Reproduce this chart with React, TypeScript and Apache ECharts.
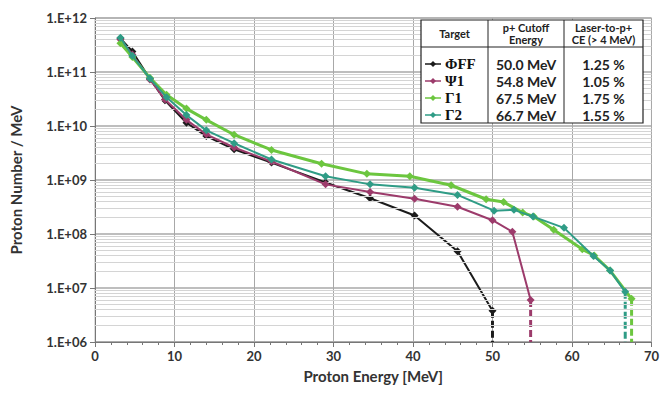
import React, { useEffect, useRef } from "react";
import * as echarts from "echarts";

const xTicks = [0, 10, 20, 30, 40, 50, 60, 70];
const decades = [6, 7, 8, 9, 10, 11];
const minorMultipliers = [2, 3, 4, 5, 6, 7, 8, 9];

const ffX = [3.2, 4.7, 6.9, 8.8, 11.5, 14.0, 17.5, 22.2, 29.0, 34.6, 40.2, 45.6, 50.0];
const ffY = [4.2e11, 2.4e11, 7.5e10, 3.0e10, 1.15e10, 6.5e9, 3.7e9, 2.1e9, 9e8, 4.6e8, 2.2e8, 4.8e7, 3.8e6];

const psiX = [3.2, 4.7, 6.9, 8.8, 11.5, 14.0, 17.5, 22.2, 29.0, 34.6, 40.2, 45.6, 50.0, 52.5, 54.8];
const psiY = [4.0e11, 2.1e11, 7.3e10, 3.1e10, 1.3e10, 7e9, 4e9, 2.2e9, 8.3e8, 6e8, 4.5e8, 3.2e8, 1.8e8, 1.1e8, 6e6];

const g1X = [3.2, 4.7, 6.9, 9.0, 11.5, 14.0, 17.5, 22.2, 28.5, 34.2, 39.6, 44.8, 49.2, 51.4, 53.8, 55.2, 57.7, 61.3, 62.8, 64.8, 67.5];
const g1Y = [3.4e11, 1.9e11, 7.8e10, 3.8e10, 2.1e10, 1.3e10, 6.9e9, 3.6e9, 2.0e9, 1.3e9, 1.17e9, 8e8, 4.4e8, 3.9e8, 2.5e8, 2.1e8, 1.2e8, 5.2e7, 4e7, 2.1e7, 6.3e6];

const g2X = [3.2, 4.7, 6.9, 9.0, 11.5, 14.0, 17.5, 22.2, 29.0, 34.6, 40.2, 45.6, 50.2, 52.7, 55.1, 59.0, 62.7, 64.8, 66.7];
const g2Y = [4.3e11, 2.0e11, 7.6e10, 3.4e10, 1.6e10, 8.3e9, 4.8e9, 2.4e9, 1.17e9, 8.3e8, 7.2e8, 5.3e8, 2.7e8, 2.8e8, 2.1e8, 1.3e8, 3.9e7, 2.1e7, 8.5e6];

const targets = ["ΦFF", "Ψ1", "Γ1", "Γ2"];
const cutoffs = ["50.0 MeV", "54.8 MeV", "67.5 MeV", "66.7 MeV"];
const efficiencies = ["1.25 %", "1.05 %", "1.75 %", "1.55 %"];
const colors = ["#1b1b1b", "#9c3b6b", "#6cc63f", "#2f9c86"];
const widths = [2, 2, 3, 2];

const seriesX = [ffX, psiX, g1X, g2X];
const seriesY = [ffY, psiY, g1Y, g2Y];

const FONT = "Lato";

export default function App() {
  const ref = useRef<HTMLDivElement>(null);
  useEffect(() => {
    if (!ref.current) return;
    const chart = echarts.init(ref.current, null, { renderer: "svg" });

    const minorLines: any[] = [];
    decades.forEach((d) =>
      minorMultipliers.forEach((m) => minorLines.push({ yAxis: m * Math.pow(10, d) }))
    );

    const series: any[] = [];
    series.push({
      type: "line",
      data: [],
      silent: true,
      z: 1,
      markLine: {
        silent: true,
        symbol: "none",
        label: { show: false },
        lineStyle: { color: "#d4d4d4", width: 1, type: "solid" },
        data: minorLines,
      },
    });
    seriesX.forEach((xs, i) => {
      const ys = seriesY[i];
      const last = xs.length - 1;
      series.push({
        type: "line",
        name: targets[i] + "-dash",
        data: [
          [xs[last], ys[last]],
          [xs[last], 1e6],
        ],
        symbol: "none",
        lineStyle: { color: colors[i], width: 3, type: [7, 3] },
        z: 3,
      });
    });
    seriesX.forEach((xs, i) => {
      const ys = seriesY[i];
      series.push({
        type: "line",
        name: targets[i],
        data: xs.map((x, k) => [x, ys[k]]),
        symbol: "diamond",
        symbolSize: 8,
        itemStyle: { color: colors[i] },
        lineStyle: { color: colors[i], width: widths[i] },
        z: 4 + i,
      });
    });

    const tl = 421, tr = 643, tt = 20, tb = 123;
    const c1 = 488, c2 = 564, hb = 47;
    const rowY = [64, 81, 98, 115];
    const graphics: any[] = [
      {
        type: "rect",
        shape: { x: tl, y: tt, width: tr - tl, height: tb - tt },
        style: { fill: "#fff", stroke: "#222", lineWidth: 1.2 },
        z: 100,
      },
      { type: "line", shape: { x1: c1, y1: tt, x2: c1, y2: tb }, style: { stroke: "#222", lineWidth: 1 }, z: 101 },
      { type: "line", shape: { x1: c2, y1: tt, x2: c2, y2: tb }, style: { stroke: "#222", lineWidth: 1 }, z: 101 },
      { type: "line", shape: { x1: tl, y1: hb, x2: tr, y2: hb }, style: { stroke: "#222", lineWidth: 1.2 }, z: 101 },
      {
        type: "text", x: (tl + c1) / 2, y: (tt + hb) / 2, z: 102,
        style: { text: "Target", fill: "#222", font: `bold 11px ${FONT}`, align: "center", verticalAlign: "middle" },
      },
      {
        type: "text", x: (c1 + c2) / 2, y: (tt + hb) / 2, z: 102,
        style: { text: "p+ Cutoff\nEnergy", fill: "#222", font: `bold 11px ${FONT}`, align: "center", verticalAlign: "middle", lineHeight: 12 },
      },
      {
        type: "text", x: (c2 + tr) / 2, y: (tt + hb) / 2, z: 102,
        style: { text: "Laser-to-p+\nCE (> 4 MeV)", fill: "#222", font: `bold 11px ${FONT}`, align: "center", verticalAlign: "middle", lineHeight: 12 },
      },
    ];
    targets.forEach((t, i) => {
      const y = rowY[i];
      graphics.push(
        { type: "line", shape: { x1: 425, y1: y, x2: 441, y2: y }, style: { stroke: colors[i], lineWidth: 1.5 }, z: 102 },
        {
          type: "polygon",
          shape: { points: [[433, y - 3], [436, y], [433, y + 3], [430, y]] },
          style: { fill: colors[i] },
          z: 103,
        },
        {
          type: "text", x: 445, y, z: 102,
          style: { text: t, fill: "#111", font: `bold 15px "Liberation Serif"`, align: "left", verticalAlign: "middle" },
        },
        {
          type: "text", x: (c1 + c2) / 2, y, z: 102,
          style: { text: cutoffs[i], fill: "#222", font: `bold 14px ${FONT}`, align: "center", verticalAlign: "middle" },
        },
        {
          type: "text", x: (c2 + tr) / 2, y, z: 102,
          style: { text: efficiencies[i], fill: "#222", font: `bold 14px ${FONT}`, align: "center", verticalAlign: "middle" },
        }
      );
    });

    chart.setOption({
      animation: false,
      backgroundColor: "#fff",
      textStyle: { fontFamily: FONT },
      grid: { left: 90, right: 10, top: 18, bottom: 52, show: true, borderColor: "#b8b8b8", borderWidth: 1, containLabel: false },
      xAxis: {
        type: "value",
        min: xTicks[0],
        max: xTicks[xTicks.length - 1],
        interval: 10,
        name: "Proton Energy [MeV]",
        nameLocation: "middle",
        nameGap: 26,
        nameTextStyle: { fontFamily: FONT, fontWeight: "bold", fontSize: 15, color: "#333" },
        axisLine: { onZero: false, lineStyle: { color: "#777", width: 1 } },
        axisTick: { show: true, length: 5, inside: false, lineStyle: { color: "#777" } },
        minorTick: { show: true, splitNumber: 5, length: 3, lineStyle: { color: "#777" } },
        axisLabel: { fontFamily: FONT, fontWeight: "bold", fontSize: 13, color: "#333", margin: 7 },
        splitLine: { show: true, lineStyle: { color: "#a8a8a8", width: 1 } },
      },
      yAxis: {
        type: "log",
        logBase: 10,
        min: 1e6,
        max: 1e12,
        name: "Proton Number / MeV",
        nameLocation: "middle",
        nameGap: 72,
        nameTextStyle: { fontFamily: FONT, fontWeight: "bold", fontSize: 15, color: "#333" },
        axisLine: { show: true, lineStyle: { color: "#777", width: 1 } },
        axisTick: { show: true, length: 5, lineStyle: { color: "#777" } },
        axisLabel: {
          fontFamily: FONT,
          fontWeight: "bold",
          fontSize: 13,
          color: "#333",
          margin: 8,
          formatter: (v: number) => {
            const e = Math.round(Math.log10(v));
            return "1.E+" + (e < 10 ? "0" + e : String(e));
          },
        },
        splitLine: { show: true, lineStyle: { color: "#a8a8a8", width: 1.5 } },
      },
      series,
      graphic: graphics,
    });
    return () => chart.dispose();
  }, []);
  return (
    <div
      ref={ref}
      style={{ position: "absolute", left: 0, top: 0, width: 662, height: 394 }}
    />
  );
}
